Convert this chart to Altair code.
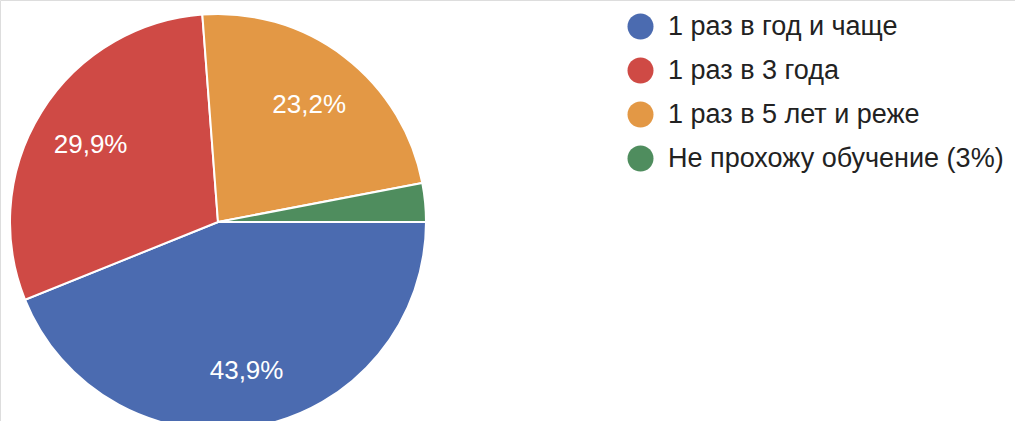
import altair as alt
import pandas as pd
import math

categories = ["1 раз в год и чаще", "1 раз в 3 года", "1 раз в 5 лет и реже", "Не прохожу обучение (3%)"]
values = [43.9, 29.9, 23.2, 3.0]
labels = ["43,9%", "29,9%", "23,2%", ""]
colors = ["#4b6bb0", "#cf4a45", "#e39845", "#4f8d5e"]

df = pd.DataFrame({
    "category": categories,
    "value": values,
    "label": labels,
    "order": list(range(len(categories))),
})

theta_scale = alt.Scale(range=[math.pi / 2, math.pi / 2 + 2 * math.pi])

base = alt.Chart(df).encode(
    theta=alt.Theta("value:Q", stack=True, scale=theta_scale),
    order=alt.Order("order:Q"),
)

pie = base.mark_arc(outerRadius=208, stroke="white", strokeWidth=2).encode(
    x=alt.value(218),
    y=alt.value(222),
    color=alt.Color(
        "category:N",
        scale=alt.Scale(domain=categories, range=colors),
        sort=categories,
        legend=alt.Legend(
            title=None,
            orient="none",
            legendX=627,
            legendY=13,
            symbolType="circle",
            symbolSize=676,
            symbolStrokeWidth=0,
            labelFont="Liberation Sans",
            labelFontSize=27,
            labelColor="#222222",
            labelOffset=14,
            rowPadding=16,
            labelLimit=400,
        ),
    ),
)

text = base.mark_text(radius=150, font="Liberation Sans", fontSize=26, color="white", baseline="middle", align="center").encode(
    x=alt.value(218),
    y=alt.value(224),
    text="label:N",
)

chart = (pie + text).properties(
    width=1015,
    height=421,
    padding=0,
    autosize=alt.AutoSizeParams(type="none"),
).configure_view(stroke=None).configure(background="white")

chart.save("out.html", embed_options={"renderer": "svg", "actions": False})
